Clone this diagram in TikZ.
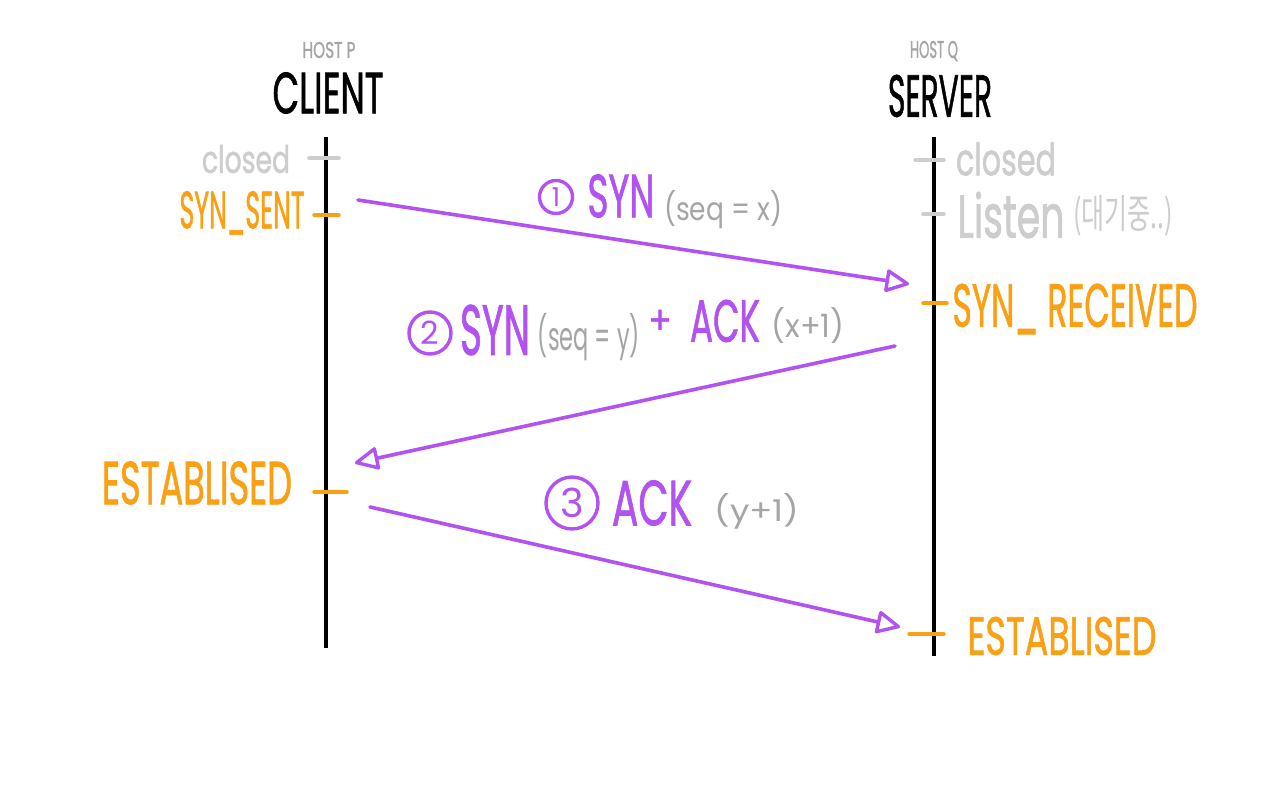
\documentclass[tikz,border=0pt]{standalone}
\usepackage{fontspec}
\setmainfont{Poppins}
\newfontfamily\hwfont{Poppins}[FakeBold=1.4]
\newfontfamily\krfont{Noto Sans CJK KR}
\usetikzlibrary{arrows.meta}
\definecolor{hwpurple}{RGB}{178,82,240}
\definecolor{hworange}{RGB}{250,160,20}
\definecolor{hwlight}{RGB}{205,205,205}
\definecolor{hwgray}{RGB}{165,165,165}
\newcommand{\hwfit}[3]{\resizebox{#1pt}{#2pt}{#3}}
\tikzset{
  lbl/.style={inner sep=0pt, outer sep=0pt, font=\hwfont},
  lifeline/.style={line width=3.6pt, black},
  tickmark/.style={line width=3.4pt, line cap=round},
  msg/.style={hwpurple, line width=3.6pt, line cap=round,
    -{Triangle[open, length=26pt, width=24pt, line width=3.4pt, round]}},
  numcirc/.style={circle, draw=hwpurple, line width=3.4pt, inner sep=0pt, text=hwpurple, font=\hwfont}
}
\begin{document}
\begin{tikzpicture}[x=1pt,y=-1pt]
\fill[white] (0,0) rectangle (1280,799);
\useasboundingbox (0,0) rectangle (1280,799);

% headers
\node[lbl, text=hwgray] (hostp) at (329,50) {\hwfit{53}{16}{HOST P}};
\node[lbl, text=black] (client) at (328,93) {\hwfit{111}{41}{CLIENT}};
\node[lbl, text=hwgray] (hostq) at (934,51) {\hwfit{48}{17}{HOST Q}};
\node[lbl, text=black] (server) at (940,96) {\hwfit{104}{42}{SERVER}};

% lifelines
\coordinate (ctop) at (326,137);
\coordinate (cbot) at (326,648);
\coordinate (stop) at (934,137);
\coordinate (sbot) at (934,656);
\draw[lifeline] (ctop) -- (cbot);
\draw[lifeline] (stop) -- (sbot);

% client states
\draw[tickmark, hwlight] (309,158) -- (339,158);
\node[lbl, text=hwlight] (cclosed) at (246,159) {\hwfit{88}{28}{closed}};
\draw[tickmark, hworange] (314,215) -- (339,215);
\node[lbl, text=hworange] (csynsent) at (242,213) {\hwfit{125}{37}{SYN\_SENT}};
\draw[tickmark, hworange] (314,492) -- (347,492);
\node[lbl, text=hworange] (cestab) at (197,483) {\hwfit{190}{43}{ESTABLISED}};

% server states
\draw[tickmark, hwlight] (915,160) -- (944,160);
\node[lbl, text=hwlight] (sclosed) at (1006,159) {\hwfit{100}{33}{closed}};
\draw[tickmark, hwlight] (923,214) -- (944,214);
\node[lbl, text=hwlight] (slisten) at (1011,215) {\hwfit{107}{46}{Listen}};
\node[lbl, text=hwlight] (swait) at (1123,216) {\hwfit{100}{33}{\krfont (대기중..)}};
\draw[tickmark, hworange] (923,303) -- (947,303);
\node[lbl, text=hworange] (ssynrcv) at (1075,309) {\hwfit{245}{43}{SYN\_ RECEIVED}};
\draw[tickmark, hworange] (909,634) -- (944,634);
\node[lbl, text=hworange] (sestab) at (1062,636) {\hwfit{189}{38}{ESTABLISED}};

% message endpoints
\coordinate (m1s) at (358,200);
\coordinate (m1e) at (909,284);
\coordinate (m2s) at (895,346);
\coordinate (m2e) at (355,463);
\coordinate (m3s) at (370,507);
\coordinate (m3e) at (900,627);
\draw[msg] (m1s) -- (m1e);
\draw[msg] (m2s) -- (m2e);
\draw[msg] (m3s) -- (m3e);

% message 1 label
\node[numcirc, minimum size=33pt, font=\fontsize{26}{26}\selectfont] (n1) at (556,197) {1};
\node[lbl, text=hwpurple] (syn1) at (621,196) {\hwfit{67}{43}{SYN}};
\node[lbl, text=hwgray, font=\rmfamily] (seq1) at (723,210) {\hwfit{118}{30}{(seq = x)}};

% message 2 label
\node[numcirc, minimum size=42pt, font=\fontsize{32}{32}\selectfont] (n2) at (430,333) {2};
\node[lbl, text=hwpurple] (syn2) at (495,330) {\hwfit{70}{50}{SYN}};
\node[lbl, text=hwgray, font=\rmfamily] (seq2) at (589,337) {\hwfit{102}{37}{(seq = y)}};
\node[lbl, text=hwpurple] (plus2) at (660,322) {\hwfit{24}{24}{+}};
\node[lbl, text=hwpurple] (ack2) at (725,321) {\hwfit{70}{42}{ACK}};
\node[lbl, text=hwgray, font=\rmfamily] (xp1) at (808,325) {\hwfit{73}{30}{(x+1)}};

% message 3 label
\node[numcirc, minimum size=52pt, font=\fontsize{40}{40}\selectfont] (n3) at (572,503) {3};
\node[lbl, text=hwpurple] (ack3) at (652,503) {\hwfit{80}{45}{ACK}};
\node[lbl, text=hwgray, font=\rmfamily] (yp1) at (757,511) {\hwfit{85}{28}{(y+1)}};
\end{tikzpicture}
\end{document}
